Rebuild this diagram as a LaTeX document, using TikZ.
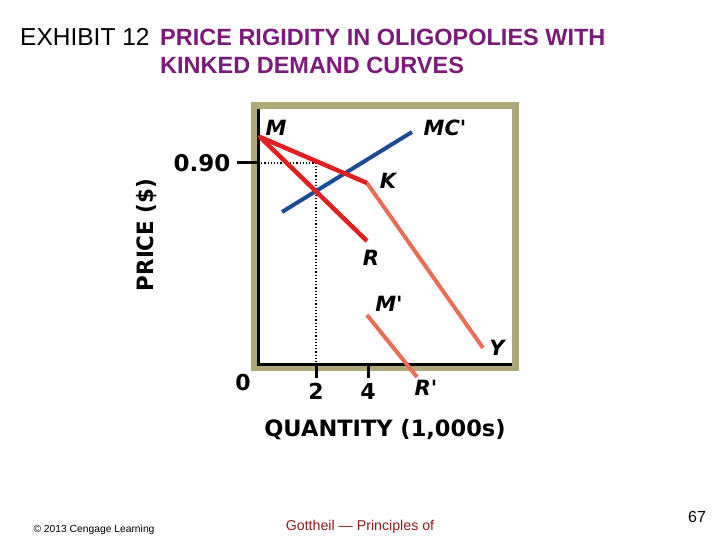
\documentclass[tikz,border=0pt]{standalone}
\usepackage{fontspec}
\setmainfont{Liberation Sans}
\newfontfamily\axisfont{DejaVu Sans}
\usepackage{tikz}
\usetikzlibrary{positioning}
\definecolor{framekhaki}{HTML}{AFA877}
\definecolor{kinkred}{HTML}{E2201F}
\definecolor{demandsalmon}{HTML}{EA6E56}
\definecolor{costblue}{HTML}{1C4C96}
\definecolor{titlepurple}{HTML}{7B1A7B}
\definecolor{footred}{HTML}{8A1C1C}

\begin{document}
\begin{tikzpicture}[
  x=1pt, y=-1pt,
  axislabel/.style={font=\axisfont\bfseries\fontsize{22.5}{24}\selectfont},
  ticklabel/.style={font=\axisfont\bfseries\fontsize{22}{24}\selectfont},
  curvelabel/.style={font=\axisfont\bfseries\itshape\fontsize{21}{23}\selectfont},
  redline/.style={kinkred, line width=4.5pt, line join=round},
  salmonline/.style={demandsalmon, line width=4pt},
  blueline/.style={costblue, line width=4pt},
  guide/.style={dotted, line width=1.2pt},
  tick/.style={line width=3pt},
]
\useasboundingbox (0,0) rectangle (720,540);

% title
\node[anchor=base west, inner sep=0pt, font=\fontsize{24.5}{28}\selectfont] (exhibit) at (20,46) {EXHIBIT 12};
\node[anchor=base west, inner sep=0pt, text=titlepurple, font=\bfseries\fontsize{23.5}{28}\selectfont] (title) at (160,46)
  {PRICE RIGIDITY IN OLIGOPOLIES WITH};
\node[anchor=base west, inner sep=0pt, text=titlepurple, font=\bfseries\fontsize{23.5}{28}\selectfont] (title2) at (160,74)
  {KINKED DEMAND CURVES};

% frame and axes
\fill[framekhaki] (251,102) rectangle (519,371);
\fill[white] (258,109) rectangle (512,364);
\coordinate (top) at (258,109);
\coordinate (origin) at (258,364);
\coordinate (right) at (512,364);
\draw[line width=3pt] (top) -- (origin) -- (right);

% guides at 0.90 and 2
\coordinate (p90) at (258,163);
\coordinate (q2p) at (316,163);
\coordinate (q2) at (316,364);
\coordinate (q4) at (368,364);
\draw[guide] (p90) -- (q2p) -- (q2);
\draw[tick] (237,163) coordinate (p90t) -- (p90);
\draw[tick] (q2) -- ++(0,14) coordinate (q2t);
\draw[tick] (q4) -- ++(0,14) coordinate (q4t);

% curves
\coordinate (M) at (260,137);
\coordinate (K) at (367,183);
\coordinate (R) at (367,241);
\coordinate (Y) at (483,348);
\coordinate (MCa) at (282,212);
\coordinate (MCb) at (412,132);
\coordinate (Mp) at (367,315);
\coordinate (Rp) at (417,377);
\draw[blueline] (MCa) -- (MCb);
\draw[salmonline] (K) -- (Y);
\draw[salmonline] (Mp) -- (Rp);
\draw[redline] (R) -- (M) -- (K);

% labels
\node[curvelabel] (labM) at (276,128) {M};
\node[curvelabel] (labMC) at (445,128) {MC'};
\node[curvelabel] (labK) at (388,181) {K};
\node[curvelabel] (labR) at (371,258) {R};
\node[curvelabel] (labMp) at (389,304) {M'};
\node[curvelabel] (labY) at (497,348) {Y};
\node[curvelabel] (labRp) at (426,388) {R'};

\node[ticklabel, font=\axisfont\bfseries\fontsize{23}{26}\selectfont, left=3pt of p90t] (lab90) {0.90};
\node[ticklabel] (lab0) at (243,382) {0};
\node[ticklabel, below=2pt of q2t] (lab2) {2};
\node[ticklabel, below=2pt of q4t] (lab4) {4};

\node[axislabel] (qty) at (385,430) {QUANTITY (1,000s)};
\node[axislabel, rotate=90, xscale=0.95] (price) at (147,235) {PRICE (\$)};

% footer
\node[font=\fontsize{10.3}{12}\selectfont] (credit) at (94,530) {\textcopyright\ 2013 Cengage Learning};
\node[text=footred, font=\fontsize{14.2}{16}\selectfont] (book) at (360,527) {Gottheil --- Principles of};
\node[font=\fontsize{16}{18}\selectfont] (page) at (697,517) {67};
\end{tikzpicture}
\end{document}
